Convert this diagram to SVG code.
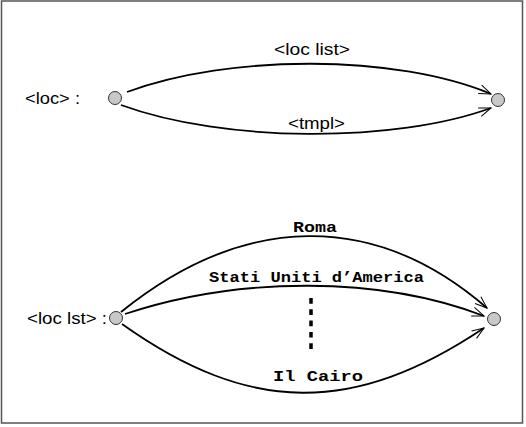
<svg xmlns="http://www.w3.org/2000/svg" width="526" height="427" viewBox="0 0 526 427">
  <style>
    .frame { fill: #ffffff; stroke: #555555; stroke-width: 1.5; }
    .node { fill: #c8c8c8; stroke: #333333; stroke-width: 1; }
    .edge { fill: none; stroke: #000000; stroke-width: 1.8; marker-end: url(#arrow); }
    .dots { fill: none; stroke: #000000; stroke-width: 3.5; stroke-dasharray: 5.7 5.6; }
    .sans { font-family: "Liberation Sans", Arial, sans-serif; font-size: 16px; fill: #000000; }
    .mono { font-family: "Liberation Mono", "Courier New", monospace; font-size: 14px; font-weight: bold; fill: #000000; }
  </style>
  <defs>
    <marker id="arrow" markerUnits="userSpaceOnUse" markerWidth="16" markerHeight="12" refX="0" refY="0" viewBox="-13 -6 16 12" orient="auto">
      <path d="M-12,-4.5 L0,0 L-12,4.5" fill="none" stroke="#000000" stroke-width="1"/>
    </marker>
  </defs>

  <rect class="frame" x="1.5" y="1" width="521" height="422"/>

  <!-- connectors -->
  <g id="connectors">
    <path class="edge" d="M127,92 C230,54 395,54 491,94"/>
    <path class="edge" d="M121,105 C225,143 395,143 491,108"/>
    <path class="edge" d="M121,312 C245,212 375,211 487,308"/>
    <path class="edge" d="M125,314 C240,276 380,276 484,316"/>
    <path class="edge" d="M122,324 C250,415 354,415 484,328"/>
    <line class="dots" x1="311" y1="298" x2="311" y2="351"/>
  </g>

  <!-- labels on connectors -->
  <g id="edge-labels">
    <text class="sans" x="274" y="55" textLength="76" lengthAdjust="spacingAndGlyphs">&lt;loc list&gt;</text>
    <text class="sans" x="288" y="129" textLength="57" lengthAdjust="spacingAndGlyphs">&lt;tmpl&gt;</text>
    <text class="mono" x="293" y="232" textLength="44" lengthAdjust="spacingAndGlyphs">Roma</text>
    <text class="mono" x="209" y="282" textLength="215" lengthAdjust="spacingAndGlyphs">Stati Uniti d’America</text>
    <text class="mono" x="273" y="381" textLength="90" lengthAdjust="spacingAndGlyphs">Il Cairo</text>
  </g>

  <!-- top automaton -->
  <g id="loc-start">
    <text class="sans" x="25" y="104" textLength="55" lengthAdjust="spacingAndGlyphs">&lt;loc&gt; :</text>
    <circle class="node" cx="115" cy="98" r="6.5"/>
  </g>
  <g id="loc-end">
    <circle class="node" cx="498" cy="100" r="6.5"/>
  </g>

  <!-- bottom automaton -->
  <g id="loclst-start">
    <text class="sans" x="27" y="324" textLength="80" lengthAdjust="spacingAndGlyphs">&lt;loc lst&gt; :</text>
    <circle class="node" cx="116" cy="318" r="6.5"/>
  </g>
  <g id="loclst-end">
    <circle class="node" cx="494" cy="319" r="6.5"/>
  </g>
</svg>
